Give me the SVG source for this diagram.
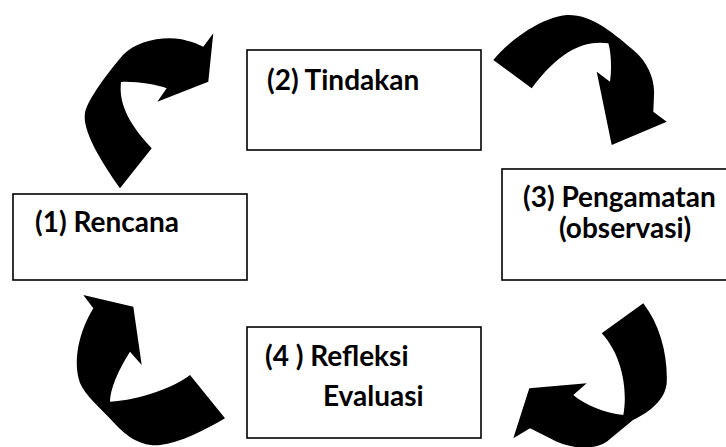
<svg xmlns="http://www.w3.org/2000/svg" width="726" height="447" viewBox="0 0 726 447">
<style>
.box{fill:#fff;stroke:#000;stroke-width:1.6}
.lbl{font-family:Lato,"Open Sans","Liberation Sans",sans-serif;font-weight:bold;font-size:28px;fill:#000}
.arr{fill:#000;stroke:none}
</style>
<rect width="726" height="447" fill="#fff"/>
<g id="connectors">
<path id="arrow-1-2" class="arr" d="M120,188.3 C100,160 82,130 85,113 C87,100 110,70 123,55 C135,42 160,36 180,39 C190,41 198,44 203.3,46.7 L213.3,33.3 L208.3,81.7 L157.3,101.7 L166.7,88.3 C158,85 135,81 121,82 C119,100 125,120 151.7,148.3 Z"/>
<path id="arrow-2-3" class="arr" d="M493.3,60 C510,40 540,18 566.7,15 C590,14 610,30 633.3,50 C648,62 655,80 654,95 L653.3,111.7 L666.7,121.7 L611.7,145 L596.7,71.7 L610,81.7 C612,68 611,52 608.3,43.3 C585,40 560,50 531.7,88.3 Z"/>
<path id="arrow-3-4" class="arr" d="M601.7,333.3 L643.3,303.3 C660,325 668,355 666.7,383.3 C665,400 650,412 633,420 L606.7,441.7 C595,450 570,450 550,438.3 L530,428.3 L513.3,438.3 L529.3,388.3 L586.7,383.3 L573.3,395 C585,405 605,413 623.3,415 C628,390 622,355 601.7,333.3 Z"/>
<path id="arrow-4-1" class="arr" d="M225,418.3 L190,375 C175,387 140,400 110,401.7 C110,390 118,370 130,351.7 L141.7,365 L133.3,306.7 L83.3,295 L93.3,308.3 C80,330 72,360 80,383 C85,395 100,408 113,421.7 C125,435 140,447 160,445 C180,443 205,430 225,418.3 Z"/>
</g>
<g id="node-1">
<rect class="box" x="13" y="194" width="234" height="86"/>
<text class="lbl" x="35" y="232">(1) Rencana</text>
</g>
<g id="node-2">
<rect class="box" x="247" y="50" width="234" height="100"/>
<text class="lbl" x="267" y="90">(2) Tindakan</text>
</g>
<g id="node-3">
<rect class="box" x="502" y="169" width="240" height="111"/>
<text class="lbl" x="523" y="207">(3) Pengamatan</text>
<text class="lbl" x="559" y="238">(observasi)</text>
</g>
<g id="node-4">
<rect class="box" x="247" y="327" width="234" height="111"/>
<text class="lbl" x="265" y="366">(4 ) Refleksi</text>
<text class="lbl" x="323" y="406">Evaluasi</text>
</g>
</svg>
